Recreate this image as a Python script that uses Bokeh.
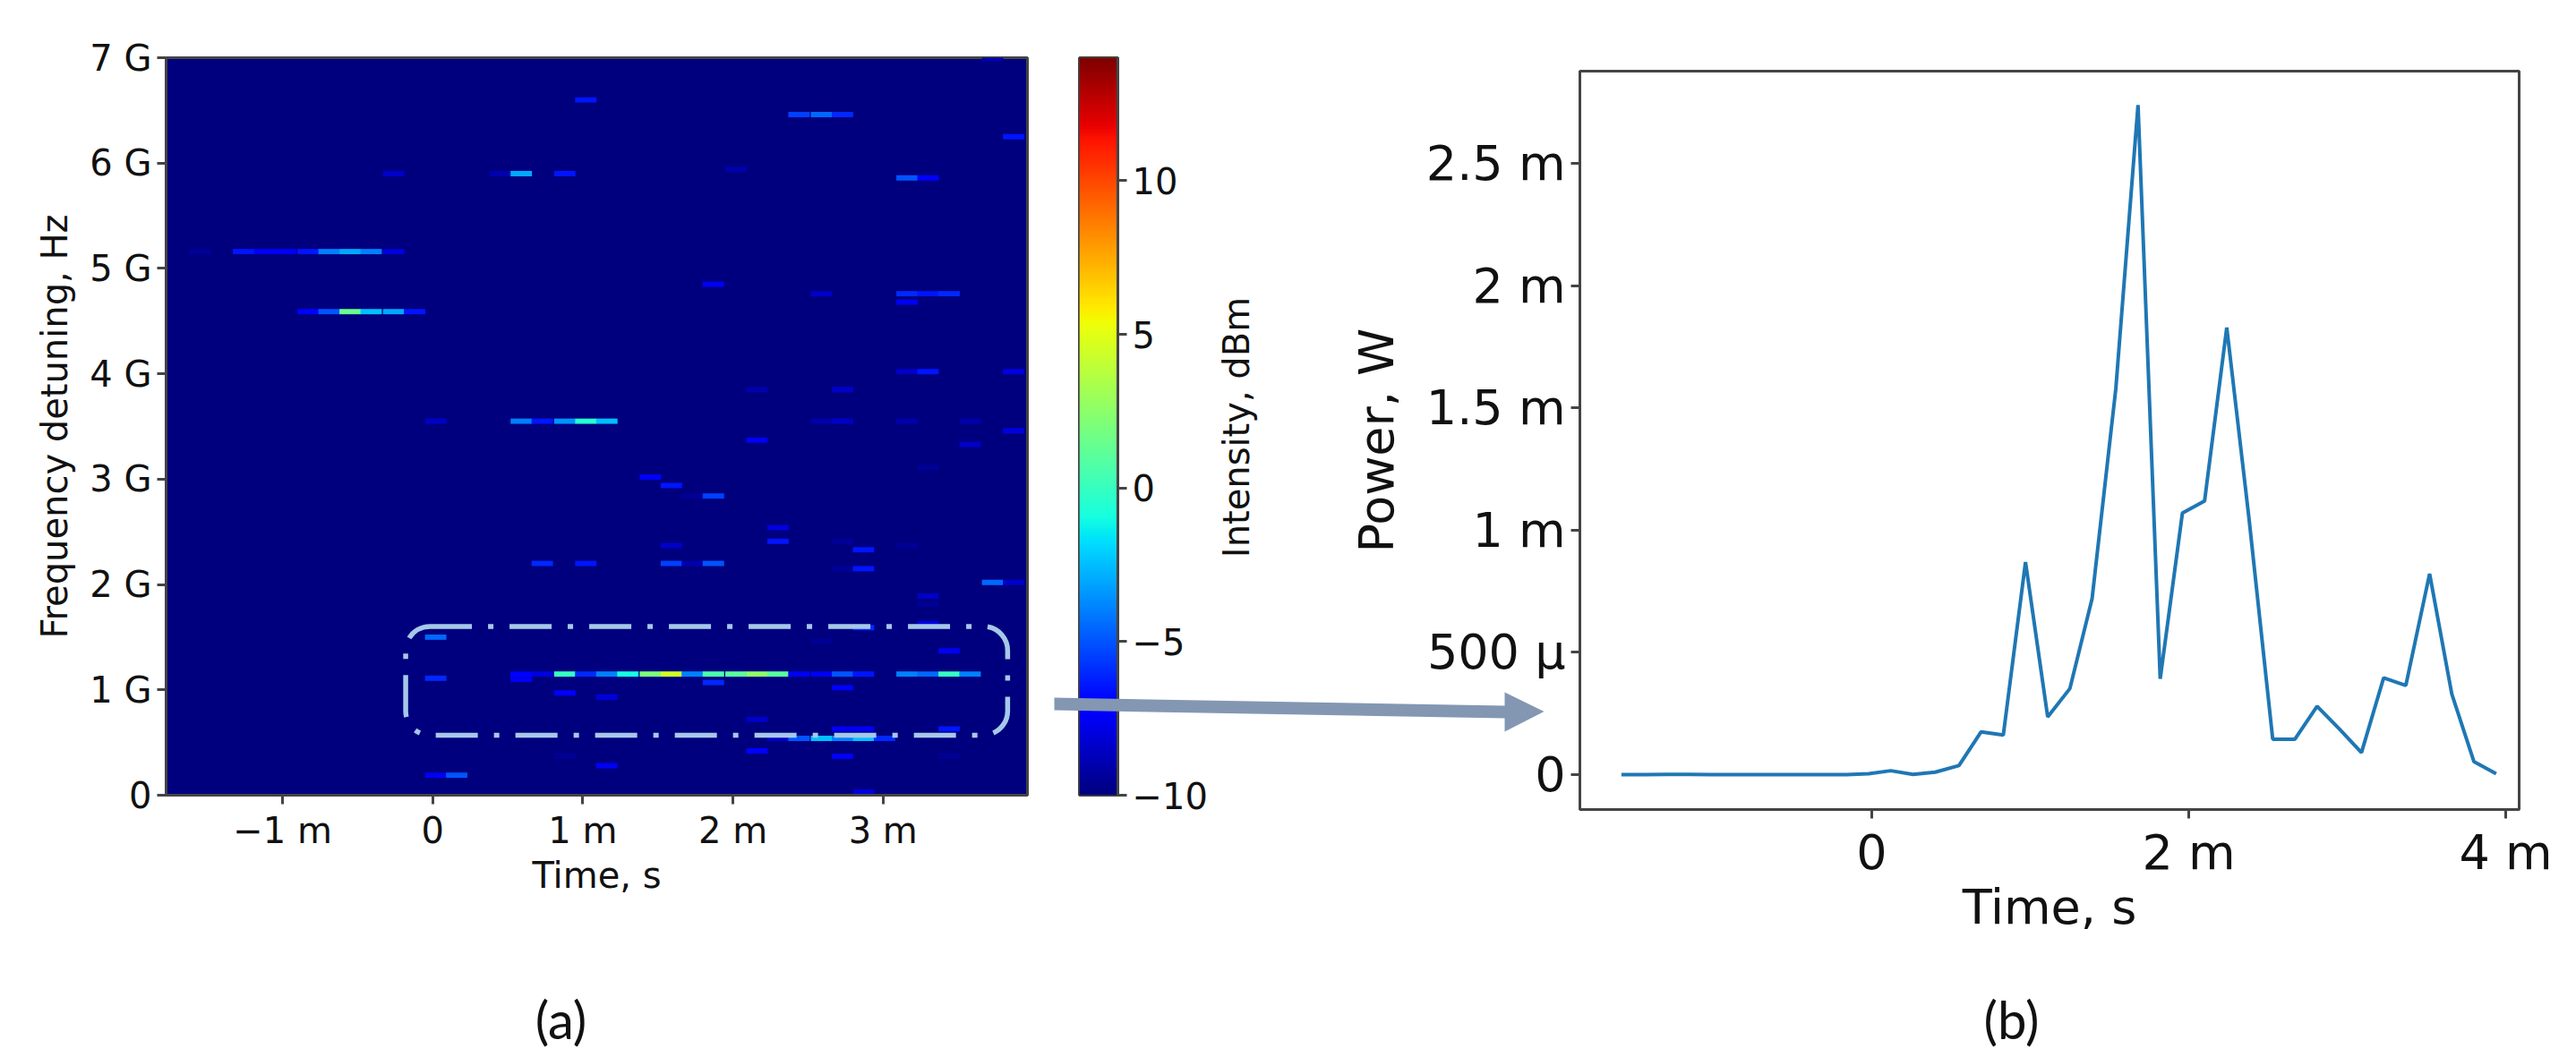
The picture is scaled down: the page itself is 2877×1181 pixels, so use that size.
import numpy as np
from bokeh.core.properties import value
from bokeh.embed import file_html
from bokeh.layouts import row
from bokeh.models import (BoxAnnotation, ColumnDataSource, FixedTicker, LinearColorMapper)
from bokeh.plotting import figure
from bokeh.resources import INLINE

# ---- panel (a): spectrogram ----
time_bins_ms = [-1.69, -1.55, -1.40, -1.26, -1.12, -0.98, -0.83, -0.69, -0.55, -0.41,
                -0.26, -0.12, 0.02, 0.16, 0.31, 0.45, 0.59, 0.73, 0.88, 1.02,
                1.16, 1.30, 1.45, 1.59, 1.73, 1.87, 2.02, 2.16, 2.30, 2.44,
                2.59, 2.73, 2.87, 3.01, 3.16, 3.30, 3.44, 3.58, 3.73, 3.87]
# (time-bin index, frequency in GHz, intensity in dBm) of cells above the floor
cell_col = [19, 29, 30, 31, 38, 39,
            10, 15, 16, 18, 26, 34, 35,
            1, 3, 4, 5, 6, 7, 8, 9, 10,
            6, 7, 8, 9, 10, 11,
            25, 30, 34, 35, 36, 34,
            34, 35, 39, 27, 31, 31,
            12, 16, 17, 18, 19, 20, 30, 31, 34, 37,
            39, 27, 37, 35,
            22, 23, 24, 25, 28, 28, 31, 23, 34, 32,
            17, 19, 23, 24, 25, 31, 32, 38, 39,
            35, 35, 35, 32, 30, 12, 36,
            16, 17, 18, 19, 20, 21, 22, 23, 24, 25, 26, 27, 28, 29, 30, 31, 32, 34, 35, 36, 37,
            12, 16, 25, 31, 18, 20, 27, 31, 32, 36,
            28, 29, 30, 31, 32, 33, 27, 18, 31, 36, 20, 12, 13, 32]
cell_freq_ghz = [6.60, 6.46, 6.46, 6.46, 6.99, 6.25,
                 5.90, 5.90, 5.90, 5.90, 5.94, 5.86, 5.86,
                 5.16, 5.16, 5.16, 5.16, 5.16, 5.16, 5.16, 5.16, 5.16,
                 4.59, 4.59, 4.59, 4.59, 4.59, 4.59,
                 4.85, 4.76, 4.76, 4.76, 4.76, 4.68,
                 4.02, 4.02, 4.02, 3.85, 3.85, 3.85,
                 3.55, 3.55, 3.55, 3.55, 3.55, 3.55, 3.55, 3.55, 3.55, 3.55,
                 3.46, 3.37, 3.33, 3.11,
                 3.02, 2.94, 2.84, 2.84, 2.54, 2.41, 2.41, 2.37, 2.37, 2.33,
                 2.20, 2.20, 2.20, 2.20, 2.20, 2.15, 2.15, 2.02, 2.02,
                 1.89, 1.81, 1.63, 1.59, 1.46, 1.50, 1.37,
                 1.15, 1.15, 1.15, 1.15, 1.15, 1.15, 1.15, 1.15, 1.15, 1.15, 1.15, 1.15, 1.15,
                 1.15, 1.15, 1.15, 1.15, 1.15, 1.15, 1.15, 1.15,
                 1.11, 1.10, 1.07, 1.02, 0.97, 0.93, 0.72, 0.63, 0.63, 0.63,
                 0.54, 0.54, 0.54, 0.54, 0.54, 0.54, 0.42, 0.37, 0.37, 0.37, 0.28, 0.19, 0.19, 0.03]
cell_db = [-6.5, -5.5, -4.5, -6.0, -9.0, -6.5,
           -8.5, -9.0, -3.0, -6.5, -9.0, -5.0, -7.0,
           -9.5, -6.5, -7.5, -7.5, -6.5, -4.0, -3.0, -4.0, -8.0,
           -7.0, -5.0, 1.5, -2.5, -3.0, -6.5,
           -7.5, -8.5, -6.0, -6.5, -6.0, -7.5,
           -8.5, -6.5, -8.0, -9.0, -8.5, -8.5,
           -8.5, -4.0, -6.5, -3.5, -0.5, -2.5, -9.0, -8.5, -9.0, -9.0,
           -8.0, -7.5, -8.5, -9.5,
           -7.0, -6.5, -9.5, -5.5, -8.0, -6.5, -9.5, -8.5, -9.5, -6.5,
           -6.0, -6.5, -5.5, -9.0, -5.0, -9.5, -6.5, -4.5, -8.5,
           -8.5, -9.5, -8.0, -6.0, -9.5, -4.5, -7.5,
           -7.0, -8.0, 0.0, -6.0, -4.0, -1.0, 2.0, 4.5, -4.0, 0.5, 1.0, 2.5, 1.0,
           -7.5, -7.5, -5.0, -6.5, -4.0, -4.5, 0.0, -4.0,
           -6.0, -7.5, -6.0, -7.0, -7.0, -8.0, -8.5, -7.5, -7.5, -6.5,
           -8.5, -5.0, -2.5, -4.0, -2.5, -6.0, -7.0, -9.5, -7.0, -9.5, -7.5, -7.5, -5.0, -8.0]
heat_x_ticks = [-1, 0, 1, 2, 3]
heat_x_labels = ["\u22121 m", "0", "1 m", "2 m", "3 m"]
heat_y_ticks = [0, 1, 2, 3, 4, 5, 6, 7]
heat_y_labels = ["0", "1 G", "2 G", "3 G", "4 G", "5 G", "6 G", "7 G"]
cbar_ticks = [-10, -5, 0, 5, 10]
cbar_labels = ["\u221210", "\u22125", "0", "5", "10"]

# ---- panel (b): power trace ----
power_time_ms = [-1.58, -1.43, -1.29, -1.15, -1.01, -0.87, -0.73, -0.59, -0.45, -0.30,
                 -0.16, -0.02, 0.12, 0.26, 0.40, 0.55, 0.69, 0.83, 0.97, 1.11,
                 1.25, 1.39, 1.54, 1.68, 1.82, 1.96, 2.10, 2.24, 2.38, 2.53,
                 2.67, 2.81, 2.95, 3.09, 3.23, 3.37, 3.52, 3.66, 3.80, 3.94]
power_mw = [0.000, 0.000, 0.001, 0.001, 0.000, 0.000, 0.000, 0.000, 0.000, 0.000,
            0.000, 0.004, 0.016, 0.001, 0.010, 0.037, 0.175, 0.162, 0.870, 0.236,
            0.352, 0.720, 1.580, 2.740, 0.392, 1.070, 1.120, 1.830, 1.050, 0.145,
            0.145, 0.280, 0.187, 0.090, 0.396, 0.365, 0.822, 0.330, 0.053, 0.004]
power_x_ticks = [0, 2, 4]
power_x_labels = ["0", "2 m", "4 m"]
power_y_ticks = [0, 0.5, 1, 1.5, 2, 2.5]
power_y_labels = ["0", "500 \u00b5", "1 m", "1.5 m", "2 m", "2.5 m"]

# jet colour table
_f = np.linspace(0, 1, 256)
_r = np.interp(_f, [0, .35, .66, .89, 1], [0, 0, 1, 1, .5])
_g = np.interp(_f, [0, .125, .375, .64, .91, 1], [0, 0, 1, 1, 0, 0])
_b = np.interp(_f, [0, .11, .34, .65, 1], [.5, 1, 1, 0, 0])
JET = ["#%02x%02x%02x" % (int(r * 255), int(g * 255), int(b * 255)) for r, g, b in zip(_r, _g, _b)]
mapper = LinearColorMapper(palette=JET, low=-10, high=14)

FONT = "DejaVu Sans"
SPINE = "#444444"


def style(ax, ticks, labels, size, label_size, standoff):
    ax.ticker = FixedTicker(ticks=ticks)
    ax.major_label_overrides = dict(zip(ticks, labels))
    ax.major_label_text_font = FONT
    ax.major_label_text_font_size = f"{size}px"
    ax.major_label_text_color = "#111111"
    ax.major_tick_in = 0
    ax.major_tick_out = 10
    ax.major_tick_line_width = 3
    ax.major_tick_line_color = SPINE
    ax.minor_tick_line_color = None
    ax.axis_line_width = 3
    ax.axis_line_color = SPINE
    ax.major_label_standoff = 6
    ax.axis_label_text_font = FONT
    ax.axis_label_text_font_style = "normal"
    ax.axis_label_text_font_size = f"{label_size}px"
    ax.axis_label_text_color = "#111111"
    ax.axis_label_standoff = standoff


# panel (a)
fig_a = figure(frame_width=962, frame_height=824, min_border_left=185, min_border_top=64,
               min_border_right=23, min_border_bottom=277, frame_align=False,
               x_range=(-1.776, 3.962), y_range=(0, 7),
               output_backend="svg", toolbar_location=None,
               background_fill_color=JET[0], border_fill_color=None,
               outline_line_color=SPINE, outline_line_width=3)
fig_a.grid.visible = False
fig_a.xaxis.axis_label = "Time, s"
fig_a.yaxis.axis_label = "Frequency detuning, Hz"
style(fig_a.xaxis[0], heat_x_ticks, heat_x_labels, 40, 40, 1)
style(fig_a.yaxis[0], heat_y_ticks, heat_y_labels, 40, 40, 13)
cells = ColumnDataSource(dict(t=[time_bins_ms[c] for c in cell_col], f=cell_freq_ghz, v=cell_db))
fig_a.rect(x="t", y="f", width=0.1425, height=0.05, source=cells, line_color=None,
           fill_color={"field": "v", "transform": mapper})
fig_a.add_layout(BoxAnnotation(left=-0.18, right=3.83, bottom=0.57, top=1.602,
                               fill_color=None, line_color="#a6c8e8", line_alpha=1, line_width=5.5,
                               line_dash=[47, 18, 6, 18], border_radius=27))

# colour bar
fig_c = figure(frame_width=43, frame_height=824, min_border_left=35, min_border_top=64,
               min_border_right=172, min_border_bottom=277, frame_align=False,
               x_range=(0, 1), y_range=(-10, 14), x_axis_location=None, y_axis_location="right",
               output_backend="svg", toolbar_location=None, border_fill_color=None,
               outline_line_color=SPINE, outline_line_width=3)
fig_c.grid.visible = False
style(fig_c.yaxis[0], cbar_ticks, cbar_labels, 40, 40, 10)
fig_c.image(image=[np.linspace(-10, 14, 512).reshape(-1, 1)], x=0, y=-10, dw=1, dh=24,
            color_mapper=mapper)

# panel (b)
fig_b = figure(frame_width=1049, frame_height=825, min_border_left=344, min_border_top=79,
               min_border_right=56, min_border_bottom=261, frame_align=False,
               x_range=(-1.842, 4.085), y_range=(-0.1429, 2.879),
               output_backend="svg", toolbar_location=None, border_fill_color=None,
               background_fill_color=None, outline_line_color=SPINE, outline_line_width=3)
fig_b.grid.visible = False
fig_b.xaxis.axis_label = "Time, s"
fig_b.yaxis.axis_label = "Power, W"
style(fig_b.xaxis[0], power_x_ticks, power_x_labels, 54, 54, -5)
style(fig_b.yaxis[0], power_y_ticks, power_y_labels, 54, 54, 21)
fig_b.line(power_time_ms, power_mw, line_color="#1f77b4", line_width=4)

# transparent page-wide overlay for what crosses the panels: the arrow, the panel
# letters and the colour-bar title (range units are page pixels)
fig_o = figure(frame_width=2877, frame_height=1181, min_border=0, x_range=(0, 2877), y_range=(1181, 0),
               x_axis_location=None, y_axis_location=None, frame_align=False,
               output_backend="svg", toolbar_location=None, border_fill_color=None,
               background_fill_color=None, outline_line_color=None, margin=(0, 0, 0, -2869))
fig_o.grid.visible = False
fig_o.patch([1177, 1680, 1680, 1724, 1680, 1680, 1177], [779, 788, 773, 794.5, 817, 802, 793],
            fill_color="#8397b2", line_color=None)
fig_o.text([626, 2246], [1138, 1138], text=["(a)", "(b)"], text_align="center", text_baseline="middle",
           text_font=value("Lato"), text_font_size=value("58px"), text_color="#111111")
fig_o.text([1380], [477], text=["Intensity, dBm"], angle=np.pi / 2, text_align="center",
           text_baseline="middle", text_font=value(FONT), text_font_size=value("40px"), text_color="#111111")

page = row(fig_a, fig_c, fig_b, fig_o, spacing=0)
open("out.html", "w").write(file_html(page, INLINE))
